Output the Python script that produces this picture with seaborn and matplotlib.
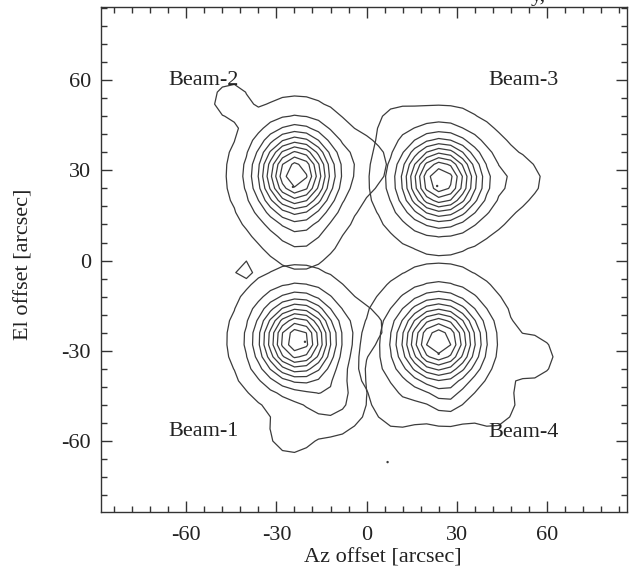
import numpy as np
import pandas as pd
import matplotlib
matplotlib.use("Agg")
import matplotlib.pyplot as plt
import seaborn as sns
from matplotlib.ticker import MultipleLocator

# ---- data (each beam is a separate map, overlaid) ----
beam_names = ["Beam-1", "Beam-2", "Beam-3", "Beam-4"]
beam_az = [-23.0, -23.5, 24.5, 24.0]        # beam centre, arcsec
beam_el = [-26.5, 28.5, 26.8, -27.0]
beam_sig_az = [8.2, 8.1, 8.3, 9.0]          # beam widths, arcsec
beam_sig_el = [8.8, 9.2, 8.8, 9.2]

# weaker side lobes / wings seen in the low contours
lobe_beam = [1, 1, 1, 1, 2, 2, 2, 0, 0, 0, 3, 3, 3, 3, 3]
lobe_az = [-45.0, -22.0, -2.0, -41.0, 51.0, 40.0, 10.0, -12.0, -25.0, 0.0, 55.0, 27.0, 4.0, 42.0, 10.0]
lobe_el = [53.0, 8.0, 32.0, -3.0, 27.0, 26.0, 45.0, -46.0, -57.0, -22.0, -32.0, -46.0, -37.0, -48.0, -48.0]
lobe_amp = [0.05, 0.08, 0.05, 0.04, 0.05, 0.06, 0.03, 0.14, 0.05, 0.03, 0.05, 0.10, 0.025, 0.05, 0.05]
lobe_sig = [4.0, 6.0, 6.0, 2.5, 4.0, 8.0, 5.0, 6.0, 5.0, 5.0, 5.0, 4.0, 5.0, 5.0, 5.0]

contour_levels = [0.02, 0.1, 0.2, 0.3, 0.4, 0.5, 0.6, 0.7, 0.8, 0.9]

# peak markers
dot_az = [-24.5, 23.5, -20.5, 24.0, 7.0]
dot_el = [24.5, 24.8, -27.0, -31.0, -67.0]

label_text = ["Beam-2", "Beam-3", "Beam-1", "Beam-4"]
label_az = [-66.0, 40.5, -66.0, 40.5]
label_el = [60.0, 60.0, -56.7, -57.0]

xticks = [-60, -30, 0, 30, 60]
yticks = [-60, -30, 0, 30, 60]
xlim = (-88.5, 86.6)
ylim = (-83.5, 84.2)

# ---- sampling grid ----
step = 4.0
gx = np.arange(-88.0, 88.0 + step, step)
gy = np.arange(-84.0, 84.0 + step, step)
AZ, EL = np.meshgrid(gx, gy)

maps = []
for b, (a, e, sa, se) in enumerate(zip(beam_az, beam_el, beam_sig_az, beam_sig_el)):
    Z = np.exp(-0.5 * (((AZ - a) / sa) ** 2 + ((EL - e) / se) ** 2))
    for lb, la, le, amp, s in zip(lobe_beam, lobe_az, lobe_el, lobe_amp, lobe_sig):
        if lb == b:
            Z = Z + amp * np.exp(-0.5 * (((AZ - la) / s) ** 2 + ((EL - le) / s) ** 2))
    maps.append(Z)

dots = pd.DataFrame({"az": dot_az, "el": dot_el})

# ---- draw ----
sns.set_style("ticks")
plt.rcParams["font.family"] = ["Liberation Serif", "DejaVu Serif"]

fig = plt.figure(figsize=(6.36, 5.76), dpi=100)
ax = fig.add_axes([0.1583, 0.1116, 0.8271, 0.8757])

line_col = "#3c3c3c"
for Z in maps:
    ax.contour(AZ, EL, Z, levels=contour_levels, colors=line_col, linewidths=0.9)
sns.scatterplot(data=dots, x="az", y="el", ax=ax, s=3, color=line_col,
                edgecolor="none", legend=False)

for t, a, e in zip(label_text, label_az, label_el):
    ax.text(a, e, t, fontsize=16, ha="left", va="center", color="#222222")

ax.set_xlim(*xlim)
ax.set_ylim(*ylim)
ax.set_xticks(xticks)
ax.set_yticks(yticks)
ax.set_xticklabels([str(v) for v in xticks])
ax.set_yticklabels([str(v) for v in yticks])
ax.xaxis.set_minor_locator(MultipleLocator(6))
ax.yaxis.set_minor_locator(MultipleLocator(6))
ax.tick_params(which="both", direction="in", top=True, right=True,
               color="#333333", width=1.0)
ax.tick_params(which="major", length=8, labelsize=16, labelcolor="#222222")
ax.tick_params(axis="y", which="major", pad=7)
ax.tick_params(axis="x", which="major", pad=10)
ax.tick_params(which="minor", length=4.5)
for sp in ax.spines.values():
    sp.set_color("#333333")
    sp.set_linewidth(1.0)

ax.set_xlabel("Az offset [arcsec]", fontsize=16, color="#222222")
ax.set_ylabel("El offset [arcsec]", fontsize=16, color="#222222")
ax.xaxis.set_label_coords(0.537, -0.072)
ax.yaxis.set_label_coords(-0.127, 0.49)

# clipped remnant of the caption line above the plot
fig.text(0.835, 0.9985, "y,", fontsize=16, ha="left", va="baseline", color="#222222")

fig.savefig("out.png", dpi=100)
